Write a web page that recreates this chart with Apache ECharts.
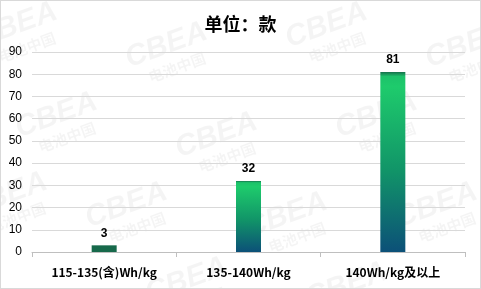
<!DOCTYPE html>
<html><head><meta charset="utf-8">
<script src="https://cdn.jsdelivr.net/npm/echarts@6/dist/echarts.min.js"></script>
<style>html,body{margin:0;padding:0;background:#fff}#c{width:481px;height:289px;box-sizing:border-box;border:1px solid #d9d9d9}</style>
</head><body><div id="c"></div>
<script>
var categories = ['115-135(含)Wh/kg', '135-140Wh/kg', '140Wh/kg及以上'];
var values = [3, 32, 81];
var yTicks = [0, 10, 20, 30, 40, 50, 60, 70, 80, 90];

var chart = echarts.init(document.getElementById('c'), null, {renderer: 'canvas'});
var grad = new echarts.graphic.LinearGradient(0, 0, 0, 1, [
  {offset: 0, color: '#16704c'},
  {offset: 0.025, color: '#1cc26a'},
  {offset: 0.08, color: '#1ecb6c'},
  {offset: 0.55, color: '#119468'},
  {offset: 1, color: '#0c5078'}
]);
var wm = [];
var wmPos = [[20,30],[170,50],[330,30],[470,50],[60,120],[220,140],[380,120],[10,200],[130,210],[290,220],[440,210],[190,285],[350,290]];
wmPos.forEach(function(p){
  wm.push({type:'group', x:p[0], y:p[1], rotation: 0.35, silent:true, z:-1, children:[
    {type:'text', style:{text:'CBEA', x:-45, y:-22, font:'italic bold 30px Arial', fill:'rgba(0,0,0,0.045)'}},
    {type:'text', style:{text:'电池中国', x:-30, y:10, font:'bold 15px "Noto Sans CJK SC"', fill:'rgba(0,0,0,0.045)'}}
  ]});
});
chart.setOption({
  animation: false,
  title: {text: '单位：款', left: 'center', top: 9,
    textStyle: {fontSize: 18, fontWeight: 'bold', color: '#000', fontFamily: '"Noto Sans CJK SC", sans-serif'}},
  grid: {left: 31, right: 15, top: 51, bottom: 36},
  graphic: wm,
  xAxis: {type: 'category', data: categories,
    axisLine: {lineStyle: {color: '#bfbfbf'}},
    axisTick: {show: true, length: 5, lineStyle: {color: '#bfbfbf'}},
    axisLabel: {margin: 14, fontSize: 12, fontWeight: 'bold', color: '#000', fontFamily: '"Noto Sans CJK SC", sans-serif'}},
  yAxis: {type: 'value', min: yTicks[0], max: yTicks[yTicks.length-1], interval: 10,
    axisLine: {show: false}, axisTick: {show: false},
    splitLine: {lineStyle: {color: '#d9d9d9'}},
    axisLabel: {margin: 10, fontSize: 12, color: '#000', fontFamily: 'Arial, "Liberation Sans"'}},
  series: [{type: 'bar', barWidth: 25,
    data: values.map(function(v, i){ return i === 0 ? {value: v, itemStyle: {color: '#17694b'}} : v; }),
    itemStyle: {color: grad},
    label: {show: true, position: 'top', distance: 6, fontSize: 12, fontWeight: 'bold', color: '#000', fontFamily: 'Arial, "Liberation Sans"'}
  }]
});
</script></body></html>
